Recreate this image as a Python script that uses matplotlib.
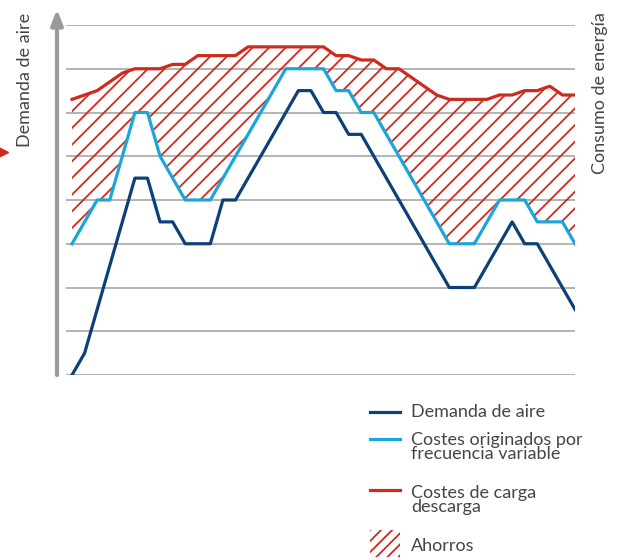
import matplotlib
matplotlib.use("Agg")
import matplotlib.pyplot as plt
from matplotlib.lines import Line2D
from matplotlib.patches import Rectangle

# vertices of each series (x = time step, y = level in gridline units)
demanda_x = [0, 1, 5, 6, 7, 8, 9, 11, 12, 13, 18, 19, 20, 21, 22, 23, 30, 32, 35, 36, 37, 40]
demanda_y = [0, 0.5, 4.5, 4.5, 3.5, 3.5, 3, 3, 4, 4, 6.5, 6.5, 6, 6, 5.5, 5.5, 2, 2, 3.5, 3, 3, 1.5]

variable_x = [0, 2, 3, 5, 6, 7, 9, 11, 17, 20, 21, 22, 23, 24, 30, 32, 34, 36, 37, 39, 40]
variable_y = [3, 4, 4, 6, 6, 5, 4, 4, 7, 7, 6.5, 6.5, 6, 6, 3, 3, 4, 4, 3.5, 3.5, 3]

carga_x = [0, 2, 3, 4, 5, 7, 8, 9, 10, 13, 14, 20, 21, 22, 23, 24, 25, 26, 27, 29, 30,
           33, 34, 35, 36, 37, 38, 39, 40]
carga_y = [6.3, 6.5, 6.7, 6.9, 7.0, 7.0, 7.1, 7.1, 7.3, 7.3, 7.5, 7.5, 7.3, 7.3, 7.2, 7.2,
           7.0, 7.0, 6.8, 6.4, 6.3, 6.3, 6.4, 6.4, 6.5, 6.5, 6.6, 6.4, 6.4]

labels = ["Demanda de aire", "Costes originados por\nfrecuencia variable",
          "Costes de carga\ndescarga", "Ahorros"]

DARK = "#0d3f78"
CYAN = "#1ba6db"
RED = "#cf2a1e"
GRID = "#b3b3b3"
TXT = "#454545"
FONT = ["Lato", "DejaVu Sans"]
FS = 13

plt.rcParams["font.family"] = FONT
plt.rcParams["hatch.linewidth"] = 1.3

W, H = 620, 559
fig = plt.figure(figsize=(W / 100, H / 100), dpi=100)
ax = fig.add_axes([66 / W, (H - 375) / H, (575 - 66) / W, 350 / H])
ax.set_xlim(-0.48, 40)
ax.set_ylim(0, 8)

for g in range(9):
    ax.axhline(g, color=GRID, lw=1.4, zorder=0)

# savings region between on/off load curve and variable-speed curve
poly_x = carga_x + variable_x[::-1]
poly_y = carga_y + variable_y[::-1]
ax.fill(poly_x, poly_y, facecolor="none", edgecolor=RED, lw=0, hatch="//", zorder=1)

ax.plot(carga_x, carga_y, color=RED, lw=2.3, zorder=3, solid_joinstyle="round")
ax.plot(variable_x, variable_y, color=CYAN, lw=2.3, zorder=3, solid_joinstyle="round")
ax.plot(demanda_x, demanda_y, color=DARK, lw=2.3, zorder=4, solid_joinstyle="round")

for s in ax.spines.values():
    s.set_visible(False)
ax.set_xticks([])
ax.set_yticks([])

# vertical axis arrow
ax.annotate("", xy=(-9 / 509, 1.045), xytext=(-9 / 509, 0), xycoords="axes fraction",
            arrowprops=dict(arrowstyle="-|>,head_length=0.9,head_width=0.35",
                            color="#9a9a9a", lw=3, shrinkA=0, shrinkB=0))

fig.text(25 / W, 1 - 80 / H, "Demanda de aire", rotation=90, ha="center", va="center",
         fontsize=FS, color=TXT)
fig.text(600 / W, 1 - 93 / H, "Consumo de energía", rotation=90, ha="center", va="center",
         fontsize=FS, color=TXT)
fig.add_artist(Line2D([2 / W], [1 - 152 / H], marker=">", color=RED, markersize=8,
                      transform=fig.transFigure))

# legend, drawn by hand to keep the stacked two-line labels
lx0, lx1, tx = 370 / W, 400 / W, 411 / W
entries = [(DARK, 412, 412), (CYAN, 439, 447), (RED, 490, 500)]
for (col, ly, ty), lab in zip(entries, labels[:3]):
    fig.add_artist(Line2D([lx0, lx1], [1 - ly / H] * 2, color=col, lw=2.3,
                          transform=fig.transFigure))
    fig.text(tx, 1 - ty / H, lab, ha="left", va="center", fontsize=FS, color=TXT,
             linespacing=0.85)
fig.add_artist(Rectangle((lx0, 1 - 557 / H), lx1 - lx0, 27 / H, transform=fig.transFigure,
                         facecolor="none", edgecolor=RED, lw=0, hatch="///"))
fig.text(tx, 1 - 546 / H, labels[3], ha="left", va="center", fontsize=FS, color=TXT)

fig.savefig("out.png", dpi=100)
